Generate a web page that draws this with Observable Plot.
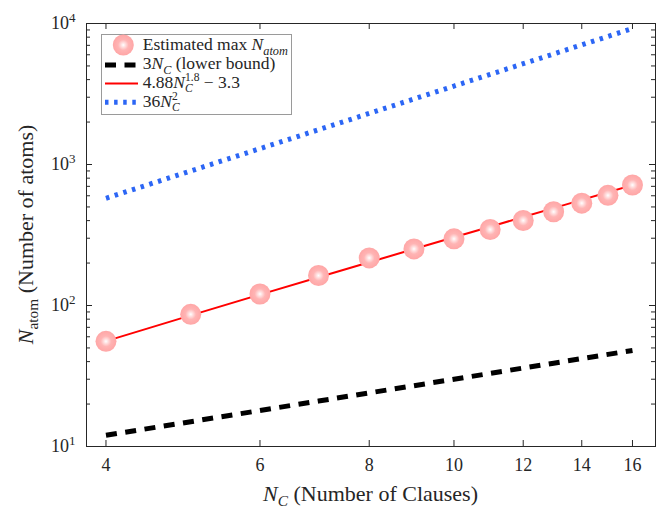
<!DOCTYPE html>
<html><head><meta charset="utf-8">
<script src="https://cdn.jsdelivr.net/npm/d3@7"></script>
<script src="https://cdn.jsdelivr.net/npm/@observablehq/plot@0.6"></script>
<style>
html,body{margin:0;padding:0;background:#fff;}
#wrap{position:relative;width:665px;height:509px;}
svg text{white-space:pre;}
</style></head><body><div id="wrap"></div>
<script>
// ---- data ----
const nClauses      = [4, 5, 6, 7, 8, 9, 10, 11, 12, 13, 14, 15, 16];
const estimatedMax  = [55.7, 86.6, 120.7, 163.2, 217.6, 252, 297, 346, 401, 462, 532, 604, 715];
const lowerBound    = [12, 15, 18, 21, 24, 27, 30, 33, 36, 39, 42, 45, 48];
const fitCurve      = [55.9, 85.1, 119.5, 158.7, 202.7, 251.4, 304.6, 362.3, 424.2, 490.6, 560.9, 635.5, 714.1];
const upperBound    = [576, 900, 1296, 1764, 2304, 2916, 3600, 4356, 5184, 6084, 7056, 8100, 9216];
const xTickValues   = [4, 6, 8, 10, 12, 14, 16];
const yTickValues   = [10, 100, 1000, 10000];
const yTickExponent = ["1", "2", "3", "4"];

// ---- layout / style ----
const W = 665, H = 509, mL = 86, mR = 10, mT = 23, mB = 63;
const plotW = W - mL - mR, plotH = H - mT - mB;
const ink = "#262626";
const font = "Liberation Serif, Times New Roman, serif";
const majorLen = 6, minorLen = 4;
const blue = "#2c66f5";
const yMinor = yTickValues.slice(0, -1).flatMap(t => d3.range(2, 10).map(k => k * t));

const rows = nClauses.map((n, i) => ({n, est: estimatedMax[i], lo: lowerBound[i], fit: fitCurve[i], hi: upperBound[i]}));

const chart = Plot.plot({
  width: W, height: H,
  marginLeft: mL, marginRight: mR, marginTop: mT, marginBottom: mB,
  style: {fontFamily: font, fontSize: "18px", color: ink, background: "white", overflow: "visible"},
  x: {type: "log", domain: [3.8, 17]},
  y: {type: "log", domain: [10, 10000]},
  marks: [
    Plot.line(rows, {x: "n", y: "lo", stroke: "black", strokeWidth: 5, strokeDasharray: "11,8.5", strokeLinecap: "butt"}),
    Plot.line(rows, {x: "n", y: "hi", stroke: blue, strokeWidth: 5, strokeDasharray: "3.5,5.6", strokeLinecap: "butt"}),
    Plot.line(rows, {x: "n", y: "fit", stroke: "#ff0000", strokeWidth: 2}),
    Plot.dot(rows, {x: "n", y: "est", r: 10.5, fill: "url(#markerGrad)", stroke: "none"}),
    // inward ticks (MATLAB style box)
    Plot.tickX(xTickValues, {x: d => d, stroke: ink, insetTop: plotH - majorLen}),
    Plot.tickX(xTickValues, {x: d => d, stroke: ink, insetBottom: plotH - majorLen}),
    Plot.tickY(yTickValues, {y: d => d, stroke: ink, insetRight: plotW - majorLen}),
    Plot.tickY(yTickValues, {y: d => d, stroke: ink, insetLeft: plotW - majorLen}),
    Plot.tickY(yMinor, {y: d => d, stroke: ink, insetRight: plotW - minorLen}),
    Plot.tickY(yMinor, {y: d => d, stroke: ink, insetLeft: plotW - minorLen}),
    Plot.frame({stroke: ink, strokeWidth: 1}),
    Plot.axisX(xTickValues, {tickSize: 0, tickPadding: 11.5, tickFormat: d => String(d), label: null, fontSize: 18, fill: ink}),
    Plot.axisY(yTickValues, {tickSize: 0, tickPadding: 11, tickFormat: () => "10", label: null, fontSize: 18, fill: ink})
  ]
});

document.getElementById("wrap").appendChild(chart);
const svg = d3.select(chart);

// gradient for the pink markers
const defs = svg.insert("defs", ":first-child");
const grad = defs.append("radialGradient").attr("id", "markerGrad").attr("cx", "50%").attr("cy", "50%").attr("r", "50%");
grad.append("stop").attr("offset", "0%").attr("stop-color", "#ffffff");
grad.append("stop").attr("offset", "20%").attr("stop-color", "#ffe0e0");
grad.append("stop").attr("offset", "50%").attr("stop-color", "#ffb4b4");
grad.append("stop").attr("offset", "100%").attr("stop-color", "#ffa6a6");

// superscript exponents on y tick labels
svg.selectAll('g[aria-label="y-axis tick label"] text').each(function (d, i) {
  d3.select(this).append("tspan").attr("dy", "-7").attr("font-size", "13px").text(yTickExponent[i]);
});

// rich text helper (italic, sub, sup, stacked scripts)
function richText(parent, pieces, size) {
  const g = parent.append("g").attr("font-family", font).attr("fill", ink).attr("text-anchor", "start");
  let cx = 0;
  const put = (txt, x, dy, fs, it) => {
    const t = g.append("text").attr("x", x).attr("y", dy).attr("font-size", fs)
      .attr("text-anchor", "start")
      .attr("font-style", it ? "italic" : "normal").text(txt);
    return t.node().getComputedTextLength();
  };
  for (const p of pieces) {
    if (p.stack) {
      const w1 = put(p.stack.sup, cx, -0.4 * size, 0.66 * size, false);
      const w2 = put(p.stack.sub, cx, 0.26 * size, 0.66 * size, true);
      cx += Math.max(w1, w2);
    } else if (p.sub) {
      cx += put(p.t, cx, 0.24 * size, 0.7 * size, p.it);
    } else if (p.sup) {
      cx += put(p.t, cx, -0.4 * size, 0.7 * size, p.it);
    } else {
      cx += put(p.t, cx, 0, size, p.it);
    }
  }
  return {g, width: cx};
}

// x-axis title
{
  const r = richText(svg, [{t: "N", it: true}, {t: "C", it: true, sub: true}, {t: " (Number of Clauses)"}], 22);
  r.g.attr("transform", `translate(${mL + plotW / 2 - r.width / 2},501)`);
}
// y-axis title
{
  const r = richText(svg, [{t: "N", it: true}, {t: "atom", sub: true}, {t: " (Number of atoms)"}], 22);
  r.g.attr("transform", `translate(33,${mT + plotH / 2 + r.width / 2}) rotate(-90)`);
}

// legend
{
  const lg = svg.append("g");
  lg.append("rect").attr("x", 101.5).attr("y", 34.5).attr("width", 190).attr("height", 80)
    .attr("fill", "white").attr("stroke", "#9a9a9a").attr("stroke-width", 1);
  const sx0 = 105, sx1 = 138, tx = 142.7;
  lg.append("circle").attr("cx", 123.3).attr("cy", 45).attr("r", 10.5).attr("fill", "url(#markerGrad)");
  lg.append("line").attr("x1", sx0).attr("x2", sx1).attr("y1", 65).attr("y2", 65)
    .attr("stroke", "black").attr("stroke-width", 5).attr("stroke-dasharray", "11,8.5");
  lg.append("line").attr("x1", sx0).attr("x2", sx1).attr("y1", 83.5).attr("y2", 83.5)
    .attr("stroke", "#ff0000").attr("stroke-width", 2);
  lg.append("line").attr("x1", sx0).attr("x2", sx1).attr("y1", 102.3).attr("y2", 102.3)
    .attr("stroke", blue).attr("stroke-width", 5).attr("stroke-dasharray", "3.5,5.6");
  const fs = 17.5;
  const rowsTxt = [
    {y: 50.3, p: [{t: "Estimated max "}, {t: "N", it: true}, {t: "atom", it: true, sub: true}]},
    {y: 69.3, p: [{t: "3"}, {t: "N", it: true}, {t: "C", it: true, sub: true}, {t: " (lower bound)"}]},
    {y: 87.7, p: [{t: "4.88"}, {t: "N", it: true}, {stack: {sup: "1.8", sub: "C"}}, {t: " \u2212 3.3"}]},
    {y: 106.7, p: [{t: "36"}, {t: "N", it: true}, {stack: {sup: "2", sub: "C"}}]}
  ];
  for (const r of rowsTxt) {
    const rt = richText(lg, r.p, fs);
    rt.g.attr("transform", `translate(${tx},${r.y})`);
  }
}
</script>
</body></html>
